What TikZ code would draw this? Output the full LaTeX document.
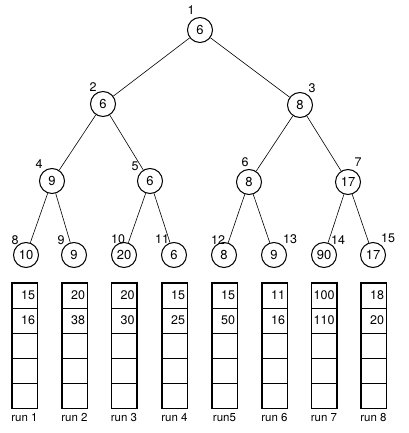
\documentclass[tikz,border=0pt]{standalone}
\usepackage{fontspec}
\setmainfont{TeX Gyre Heros}
\begin{document}
\begin{tikzpicture}[x=1pt,y=-1pt,
  nd/.style={circle,draw,line width=1pt,minimum size=25pt,inner sep=0pt,font=\fontsize{13}{13}\selectfont},
  lab/.style={inner sep=0pt,font=\fontsize{12.5}{13}\selectfont},
  edge/.style={line width=0.6pt},
  cell/.style={draw,line width=0.9pt,minimum height=25pt,text width=21pt,align=right,inner sep=2pt,font=\fontsize{12.5}{13}\selectfont},
  runlab/.style={inner sep=0pt,font=\fontsize{11.5}{12}\selectfont}]
\useasboundingbox (0,0) rectangle (408,433);
% tree nodes
\node[nd] (n1) at (200,30) {6};
\node[nd] (n2) at (103,104) {6};
\node[nd] (n3) at (300,105) {8};
\node[nd] (n4) at (52,181) {9};
\node[nd] (n5) at (150,181) {6};
\node[nd] (n6) at (249,182) {8};
\node[nd] (n7) at (348,182) {17};
\node[nd] (n8) at (26,255) {10};
\node[nd] (n9) at (74,255) {9};
\node[nd] (n10) at (124,255) {20};
\node[nd] (n11) at (174,255) {6};
\node[nd] (n12) at (224,255) {8};
\node[nd] (n13) at (274,255) {9};
\node[nd] (n14) at (324,255) {90};
\node[nd] (n15) at (373,255) {17};
% edges
\draw[edge] (n1) -- (n2);
\draw[edge] (n1) -- (n3);
\draw[edge] (n2) -- (n4);
\draw[edge] (n2) -- (n5);
\draw[edge] (n3) -- (n6);
\draw[edge] (n3) -- (n7);
\draw[edge] (n4) -- (n8);
\draw[edge] (n4) -- (n9);
\draw[edge] (n5) -- (n10);
\draw[edge] (n5) -- (n11);
\draw[edge] (n6) -- (n12);
\draw[edge] (n6) -- (n13);
\draw[edge] (n7) -- (n14);
\draw[edge] (n7) -- (n15);
% index labels
\node[lab] (l1) at (191,10) {1};
\node[lab] (l2) at (93,87) {2};
\node[lab] (l3) at (312,88) {3};
\node[lab] (l4) at (39,164) {4};
\node[lab] (l5) at (135,166) {5};
\node[lab] (l6) at (245,162) {6};
\node[lab] (l7) at (358,162) {7};
\node[lab] (l8) at (15,240) {8};
\node[lab] (l9) at (61,240) {9};
\node[lab] (l10) at (118,239) {10};
\node[lab] (l11) at (162,239) {11};
\node[lab] (l12) at (218,240) {12};
\node[lab] (l13) at (290,239) {13};
\node[lab] (l14) at (338,240) {14};
\node[lab] (l15) at (388,238) {15};
% run columns
\foreach \i/\x/\a/\b/\r in {1/24.5/15/16/run 1, 2/74.5/20/38/run 2, 3/124/20/30/run 3, 4/174.5/15/25/run 4, 5/224.5/15/50/run5, 6/274.5/11/16/run 6, 7/324/100/110/run 7, 8/373.5/18/20/run 8}{
  \node[cell] (c\i-1) at (\x,295.5) {\a};
  \node[cell] (c\i-2) at (\x,320.5) {\b};
  \node[cell] (c\i-3) at (\x,345.5) {};
  \node[cell] (c\i-4) at (\x,370.5) {};
  \node[cell] (c\i-5) at (\x,395.5) {};
  \draw[line width=1.1pt] (c\i-1.north west) rectangle (c\i-5.south east);
  \node[runlab] (r\i) at (\x,418) {\r};
}
\end{tikzpicture}
\end{document}
